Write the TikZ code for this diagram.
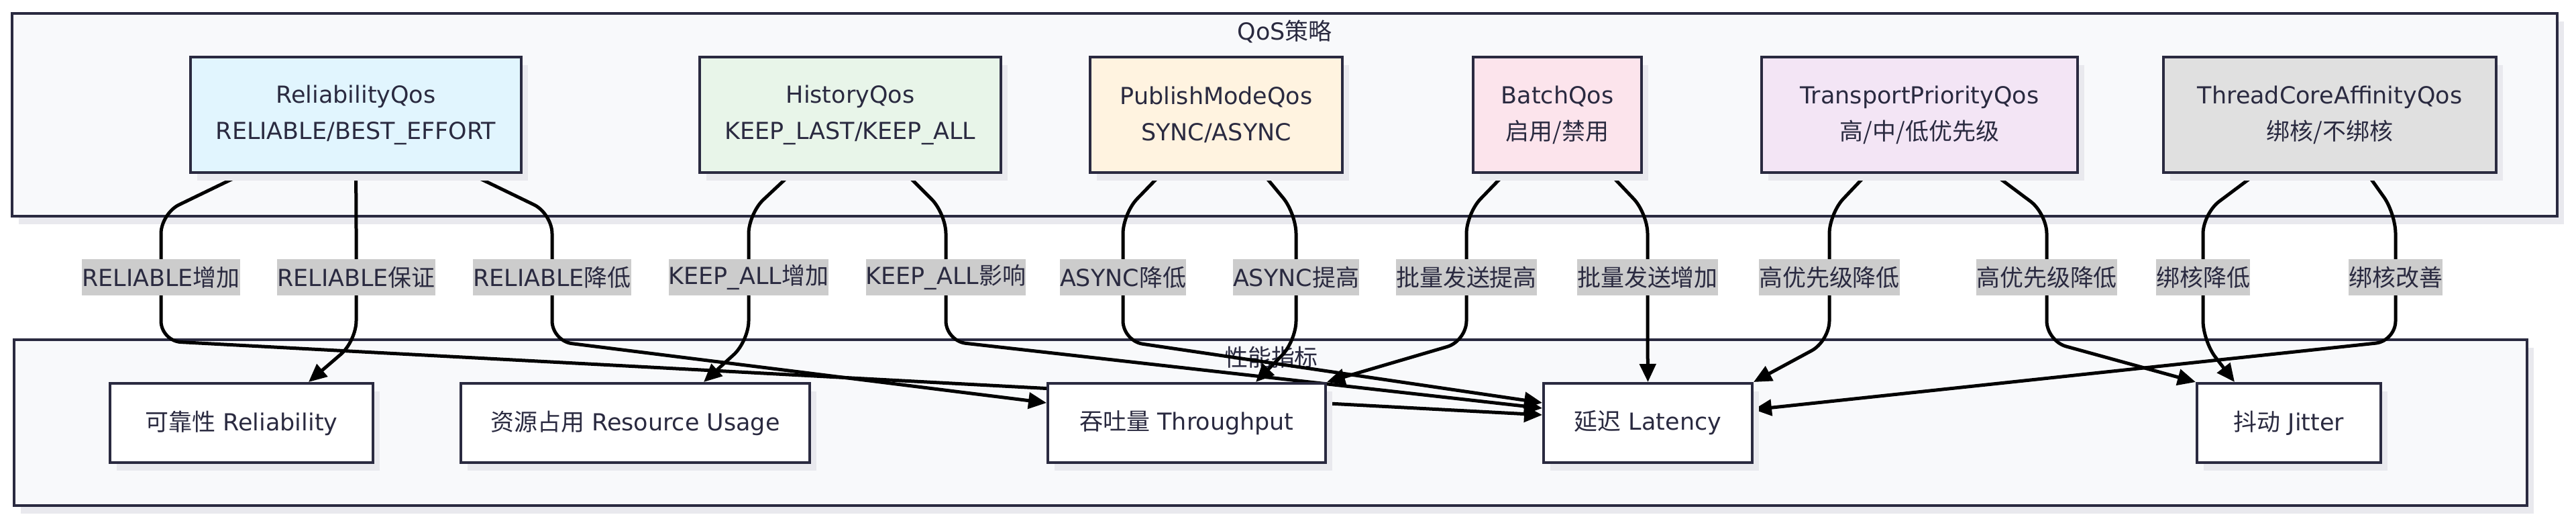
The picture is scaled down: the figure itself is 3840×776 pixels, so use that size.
\documentclass[tikz,border=0pt]{standalone}
\usepackage{fontspec}
\setmainfont{DejaVu Sans}
\newfontfamily\cjk{Noto Sans CJK SC}
\usetikzlibrary{arrows.meta,shadows}

\pgfdeclarelayer{back}
\pgfdeclarelayer{mid}
\pgfsetlayers{back,mid,main}

\definecolor{ink}{HTML}{2A2A40}
\definecolor{clusterbg}{HTML}{F8F9FB}
\definecolor{shade}{HTML}{E9E9EE}
\definecolor{lblgray}{HTML}{CCCCCC}
\definecolor{relblue}{HTML}{E1F5FE}
\definecolor{hisgreen}{HTML}{E8F5E9}
\definecolor{pubcream}{HTML}{FFF3E0}
\definecolor{batpink}{HTML}{FCE4EC}
\definecolor{trnlilac}{HTML}{F3E5F5}
\definecolor{coregray}{HTML}{E0E0E0}

\begin{document}
\begin{tikzpicture}[x=0.02cm, y=-0.02cm,
    font=\fontsize{19.9pt}{30.7pt}\selectfont,
    boxshadow/.style={general shadow={fill=shade, shadow xshift=0.2cm, shadow yshift=-0.24cm}},
    cluster/.style={draw=ink, line width=0.08cm, fill=clusterbg, boxshadow},
    qos/.style={draw=ink, line width=0.08cm, text=ink, align=center, minimum height=3.44cm, inner sep=0pt, boxshadow},
    metric/.style={draw=ink, line width=0.08cm, fill=white, text=ink, minimum height=2.36cm, inner sep=0pt, boxshadow},
    lbl/.style={fill=lblgray, text=ink, sharp corners, inner xsep=0pt, inner ysep=0pt, minimum height=1.08cm},
    link/.style={line width=0.1cm, rounded corners=0.6cm, -{Triangle[length=0.54cm,width=0.48cm]}}]
    \useasboundingbox (0,0) rectangle (3840,776);

    % draw clusters
    \begin{pgfonlayer}{back}
      \fill[white] (0,0) rectangle (3840,776);
      \draw[cluster] (18,20) rectangle (3812,322);
      \draw[cluster] (21,506) rectangle (3767,753);
      \node[text=ink] (qostitle) at (1915,47) {QoS{\cjk 策略}};
      \node[text=ink] (perftitle) at (1895,532) {{\cjk 性能指标}};
    \end{pgfonlayer}

    % draw qos nodes
    \node[qos, fill=relblue, minimum width=9.86cm] (rqos) at (530.5,171) {ReliabilityQos\\RELIABLE/BEST\_EFFORT};
    \node[qos, fill=hisgreen, minimum width=8.98cm] (hqos) at (1267.5,171) {HistoryQos\\KEEP\_LAST/KEEP\_ALL};
    \node[qos, fill=pubcream, minimum width=7.52cm] (pqos) at (1813,171) {PublishModeQos\\SYNC/ASYNC};
    \node[qos, fill=batpink, minimum width=5.02cm] (bqos) at (2321.5,171) {BatchQos\\{\cjk 启用/禁用}};
    \node[qos, fill=trnlilac, minimum width=9.42cm] (tqos) at (2861.5,171) {TransportPriorityQos\\{\cjk 高/中/低优先级}};
    \node[qos, fill=coregray, minimum width=9.92cm] (cqos) at (3473,171) {ThreadCoreAffinityQos\\{\cjk 绑核/不绑核}};

    % draw metric nodes
    \node[metric, minimum width=7.84cm] (rel) at (360,630) {{\cjk 可靠性} Reliability};
    \node[metric, minimum width=10.4cm] (res) at (947,630) {{\cjk 资源占用} Resource Usage};
    \node[metric, minimum width=8.28cm] (thr) at (1769,630) {{\cjk 吞吐量} Throughput};
    \node[metric, minimum width=6.22cm] (lat) at (2456.5,630) {{\cjk 延迟} Latency};
    \node[metric, minimum width=5.48cm] (jit) at (3412,630) {{\cjk 抖动} Jitter};

    % draw edges
    \begin{pgfonlayer}{mid}
      \draw[link] ([xshift=-3.37cm]rqos.south) -- (240,318) -- node[lbl] (l1) {RELIABLE{\cjk 增加}} (240,508) -- ([yshift=0.24cm]lat.west);
      \draw[link] (rqos.south) -- (531,318) -- node[lbl] (l2) {RELIABLE{\cjk 保证}} (531,508) -- ([xshift=2cm]rel.north);
      \draw[link] ([xshift=3.41cm]rqos.south) -- (823,318) -- node[lbl] (l3) {RELIABLE{\cjk 降低}} (823,508) -- ([yshift=0.6cm]thr.west);
      \draw[link] ([xshift=-1.77cm]hqos.south) -- (1116,318) -- node[lbl] (l4) {KEEP\_ALL{\cjk 增加}} (1116,508) -- ([xshift=2.04cm]res.north);
      \draw[link] ([xshift=1.67cm]hqos.south) -- (1410,318) -- node[lbl] (l5) {KEEP\_ALL{\cjk 影响}} (1410,508) -- ([yshift=0.44cm]lat.west);
      \draw[link] ([xshift=-1.64cm]pqos.south) -- (1674,318) -- node[lbl] (l6) {ASYNC{\cjk 降低}} (1674,508) -- ([yshift=0.6cm]lat.west);
      \draw[link] ([xshift=1.4cm]pqos.south) -- (1932,318) -- node[lbl] (l7) {ASYNC{\cjk 提高}} (1932,508) -- ([xshift=2.06cm]thr.north);
      \draw[link] ([xshift=-1.57cm]bqos.south) -- (2186,318) -- node[lbl] (l8) {{\cjk 批量发送提高}} (2186,508) -- (thr.north east);
      \draw[link] ([xshift=1.57cm]bqos.south) -- (2456,318) -- node[lbl] (l9) {{\cjk 批量发送增加}} (2456,508) -- (lat.north);
      \draw[link] ([xshift=-1.57cm]tqos.south) -- (2727,318) -- node[lbl] (l10) {{\cjk 高优先级降低}} (2727,508) -- (lat.north east);
      \draw[link] ([xshift=2.21cm]tqos.south) -- (3051,318) -- node[lbl] (l11) {{\cjk 高优先级降低}} (3051,508) -- (jit.north west);
      \draw[link] ([xshift=-2.2cm]cqos.south) -- (3284,318) -- node[lbl] (l12) {{\cjk 绑核降低}} (3284,508) -- ([xshift=-1.62cm]jit.north);
      \draw[link] ([xshift=1.12cm]cqos.south) -- (3571,318) -- node[lbl] (l13) {{\cjk 绑核改善}} (3571,508) -- ([yshift=0.4cm]lat.east);
    \end{pgfonlayer}
\end{tikzpicture}
\end{document}
